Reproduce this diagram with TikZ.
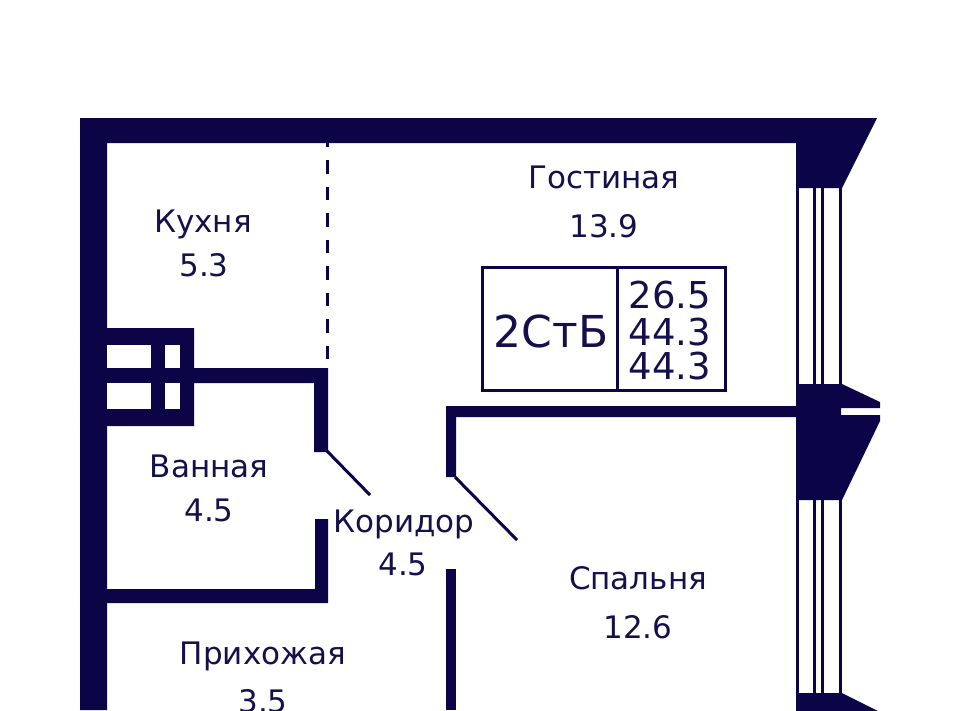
\documentclass[tikz,border=0pt]{standalone}
\usepackage{fontspec}
\setmainfont{DejaVu Sans}
\definecolor{wallcolor}{HTML}{0B0547}
\definecolor{textcolor}{HTML}{15104C}
\tikzset{
  wall/.style={fill=wallcolor,draw=none},
  roomlabel/.style={anchor=base,inner sep=0pt,text=textcolor,font=\fontsize{31}{36}\selectfont},
  boxlabel/.style={anchor=base,inner sep=0pt,text=textcolor,font=\fontsize{37}{44}\selectfont},
  mullion/.style={wallcolor,line width=3pt},
  doorleaf/.style={wallcolor,line width=3pt},
}
\begin{document}
\begin{tikzpicture}[x=1pt,y=-1pt]
\useasboundingbox (0,0) rectangle (960,710);
\clip (0,0) rectangle (960,710);

\fill[white] (0,0) rectangle (960,710);

\fill[wall] (80,118) -- (877,118) -- (842,188) -- (796,188) -- (796,143) -- (107,143) -- (107,710) -- (80,710) -- cycle;

\fill[wall] (107,328) -- (194,328) -- (194,368) -- (328,368) -- (328,452) -- (314,452) -- (314,383) -- (194,383) -- (194,426) -- (107,426) -- cycle;
\fill[white] (107,345) rectangle (151,368);
\fill[white] (165,345) rectangle (180,368);
\fill[white] (107,383) rectangle (151,409);
\fill[white] (165,383) rectangle (180,409);

\fill[wall] (315,519) -- (328,519) -- (328,603) -- (107,603) -- (107,589) -- (315,589) -- cycle;

\fill[wall] (446,477) -- (446,406) -- (796,406) -- (796,384) -- (842,384) -- (880,402) -- (880,408) -- (841,408) -- (841,415) -- (880,415) -- (880,421) -- (842,500) -- (796,500) -- (796,417) -- (456,417) -- (456,477) -- cycle;

\fill[wall] (446,569) rectangle (456,710);
\fill[wall] (796,693) -- (842,693) -- (880,712) -- (796,712) -- cycle;

\foreach \xpos in {797.5,814.5,822.5,840} {
  \draw[mullion] (\xpos,188) -- (\xpos,384);
  \draw[mullion] (\xpos,500) -- (\xpos,693);
}

\draw[wallcolor,line width=3pt,dash pattern=on 13.5pt off 13pt,dash phase=9.5pt] (327,143) -- (327,368);

\draw[doorleaf] (327,451) -- (370,495);
\draw[doorleaf] (455,477) -- (517,540);

\node[draw=wallcolor,line width=3pt,fill=white,minimum width=243pt,minimum height=123pt,inner sep=0pt] (infobox) at (604,329) {};
\draw[wallcolor,line width=3pt] (infobox.north -| 617,0) -- (infobox.south -| 617,0);

\node[roomlabel] (gostinaya) at (604,188) {Гостиная};
\node[roomlabel] (gostinayaarea) at (604,237) {13.9};
\node[roomlabel] (kukhnya) at (203,232) {Кухня};
\node[roomlabel] (kukhnyaarea) at (204,276) {5.3};
\node[roomlabel] (vannaya) at (209,477) {Ванная};
\node[roomlabel] (vannayaarea) at (209,521) {4.5};
\node[roomlabel] (koridor) at (404,532) {Коридор};
\node[roomlabel] (koridorarea) at (403,575) {4.5};
\node[roomlabel] (spalnya) at (638,589) {Спальня};
\node[roomlabel] (spalnyaarea) at (638,638) {12.6};
\node[roomlabel] (prikhozhaya) at (263,664) {Прихожая};
\node[roomlabel] (prikhozhayaarea) at (263,712) {3.5};

\node[boxlabel,font=\fontsize{44}{52}\selectfont] (flattype) at (551,347) {2СтБ};
\node[boxlabel] (areaone) at (670,308) {26.5};
\node[boxlabel] (areatwo) at (670,345) {44.3};
\node[boxlabel] (areathree) at (670,379) {44.3};
\end{tikzpicture}
\end{document}
